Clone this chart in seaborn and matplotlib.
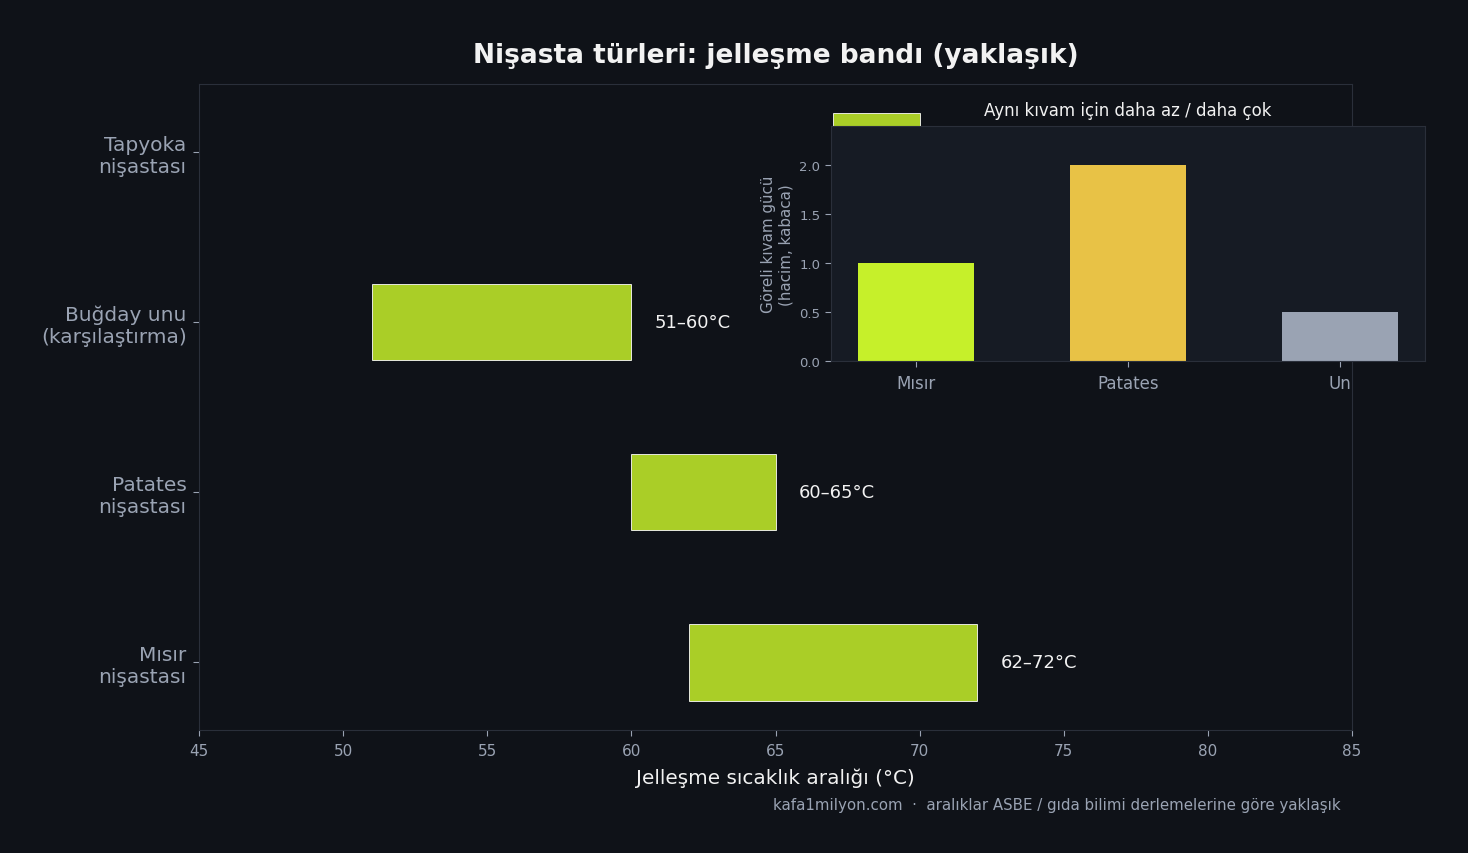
import matplotlib
matplotlib.use("Agg")
import matplotlib.pyplot as plt
import seaborn as sns
import pandas as pd

# gelatinization ranges (deg C)
starches = ['Tapyoka\nnişastası', 'Buğday unu\n(karşılaştırma)', 'Patates\nnişastası', 'Mısır\nnişastası']
range_lo = [67, 51, 60, 62]
range_hi = [70, 60, 65, 72]

# inset: relative thickening power
inset_names = ['Mısır', 'Patates', 'Un']
inset_vals = [1.0, 2.0, 0.5]
inset_colors = ['#c6f02a', '#e8c246', '#9aa3b3']

BG = '#0f1218'
INSET_BG = '#161b24'
SPINE = '#2a2f3a'
GRAY = '#9aa3b3'
WHITE = '#f2f2f2'
LIME = '#c6f02a'

sns.set_style('dark', rc={'axes.facecolor': BG, 'figure.facecolor': BG,
                          'axes.edgecolor': SPINE, 'xtick.color': GRAY,
                          'ytick.color': GRAY, 'text.color': WHITE,
                          'axes.labelcolor': WHITE, 'xtick.bottom': True,
                          'ytick.left': True})
plt.rcParams['font.family'] = ['DejaVu Sans']

fig = plt.figure(figsize=(14.68, 8.54), dpi=100)
ax = fig.add_axes([0.1356, 0.144, 0.7854, 0.7565])

# draw bottom-to-top so Misir is at the bottom
ypos = list(range(len(starches)))[::-1]
widths = [h - l for l, h in zip(range_lo, range_hi)]
ax.barh(ypos, widths, left=range_lo, height=0.45, color=LIME, alpha=0.85,
        edgecolor='white', linewidth=0.7)
for y, l, h in zip(ypos, range_lo, range_hi):
    ax.text(h + 0.8, y, f'{l}–{h}°C', va='center', ha='left', fontsize=13, color=WHITE)

ax.set_yticks(ypos)
ax.set_yticklabels(starches, fontsize=14.5, color=GRAY)
ax.set_xlim(45, 85)
ax.set_xticks(range(45, 86, 5))
ax.tick_params(axis='x', labelsize=11, colors=GRAY, length=4, pad=5)
ax.tick_params(axis='y', colors=GRAY, length=4, pad=5)
ax.set_xlabel('Jelleşme sıcaklık aralığı (°C)', fontsize=14.4, color=WHITE, labelpad=7)
for s in ax.spines.values():
    s.set_color(SPINE)
ax.grid(False)

ax.set_title('Nişasta türleri: jelleşme bandı (yaklaşık)', fontsize=19,
             fontweight='bold', color=WHITE, pad=16)
fig.text(0.913, 0.057, 'kafa1milyon.com  ·  aralıklar ASBE / gıda bilimi derlemelerine göre yaklaşık',
         ha='right', va='center', fontsize=10.8, color=GRAY)

# inset
axi = fig.add_axes([0.566, 0.576, 0.405, 0.275])
axi.set_facecolor(INSET_BG)
df = pd.DataFrame({'name': inset_names, 'val': inset_vals})
sns.barplot(data=df, x='name', y='val', hue='name', palette=inset_colors,
            width=0.55, legend=False, ax=axi, saturation=1, linewidth=0)
axi.set_xlim(-0.4025, 2.4025)
axi.set_ylim(0, 2.4)
axi.set_yticks([0, 0.5, 1.0, 1.5, 2.0])
axi.set_xlabel('')
axi.set_ylabel('Göreli kıvam gücü\n(hacim, kabaca)', fontsize=10.9, color=GRAY)
axi.set_title('Aynı kıvam için daha az / daha çok', fontsize=12, color=WHITE, pad=8)
axi.tick_params(axis='y', labelsize=9.5, colors=GRAY, length=4)
axi.tick_params(axis='x', labelsize=12, colors=GRAY, length=4, pad=5)
for s in axi.spines.values():
    s.set_color(SPINE)
axi.grid(False)

fig.savefig('out.png', dpi=100, facecolor=BG)
